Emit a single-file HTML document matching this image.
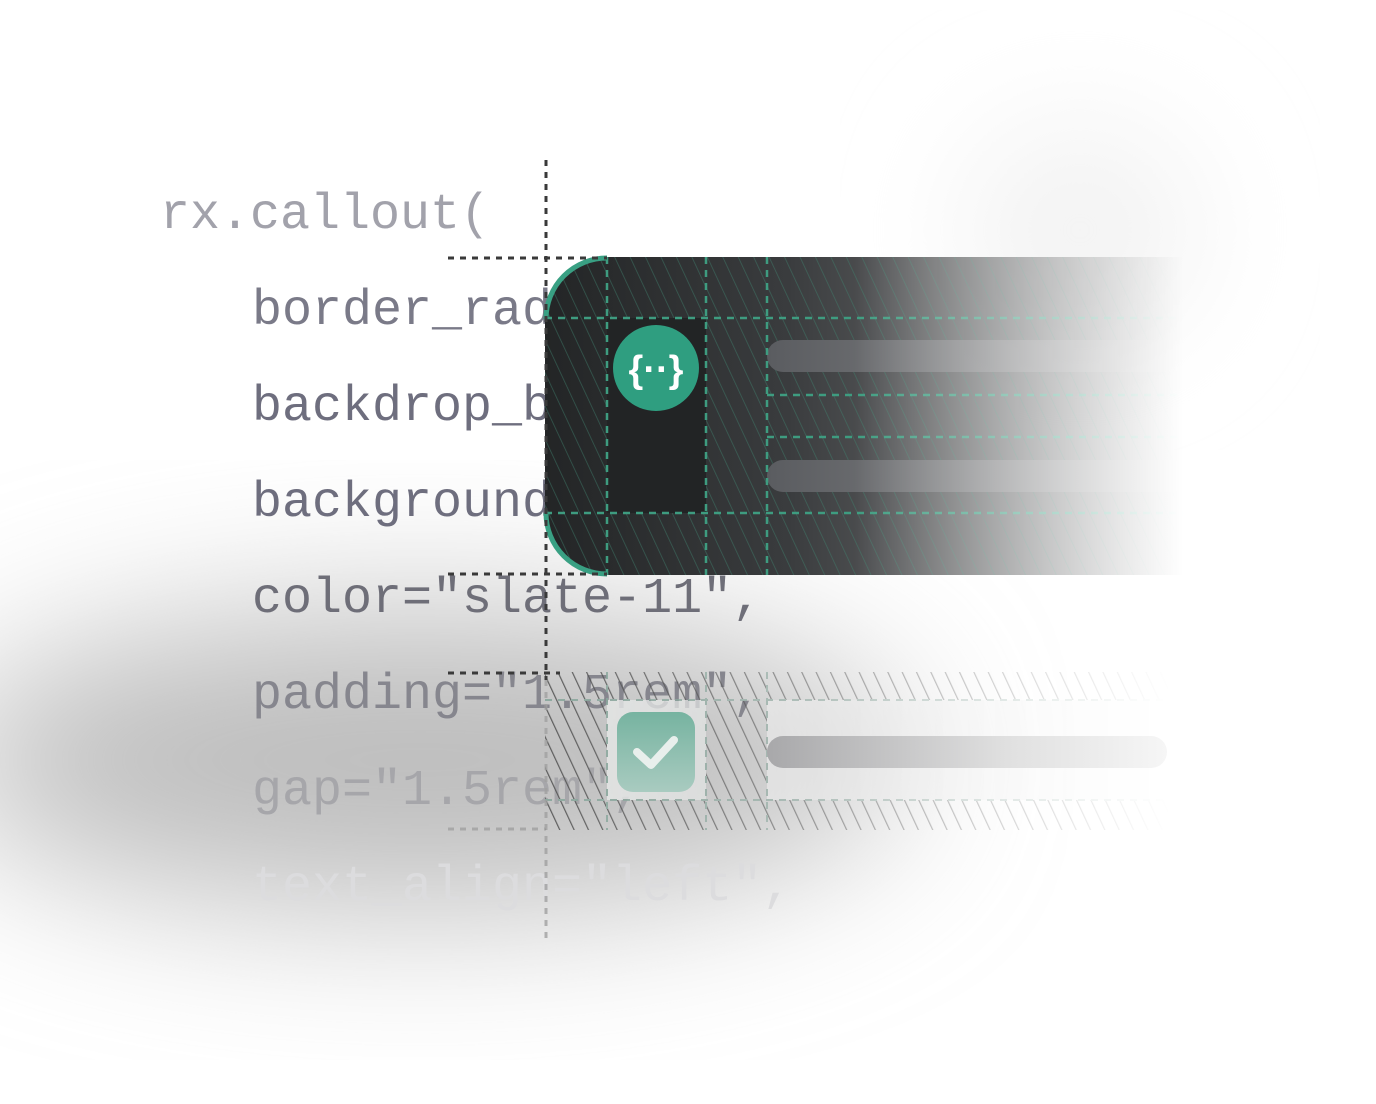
<!DOCTYPE html>
<html><head><meta charset="utf-8"><style>
html,body{margin:0;padding:0;background:#fff;}
svg{display:block;}
text{font-family:"Liberation Mono","DejaVu Sans Mono",monospace;font-size:50px;}
</style></head><body>
<svg width="1376" height="1104" viewBox="0 0 1376 1104" xmlns="http://www.w3.org/2000/svg">
<defs>
  <filter id="blur" x="-50%" y="-50%" width="200%" height="200%"><feGaussianBlur stdDeviation="80"/></filter>
  <filter id="blur2" x="-50%" y="-50%" width="200%" height="200%"><feGaussianBlur stdDeviation="60"/></filter>
  <pattern id="hatch" width="14" height="14" patternUnits="userSpaceOnUse" patternTransform="rotate(-25)">
    <line x1="0" y1="0" x2="0" y2="14" stroke="#3f7f6c" stroke-width="1.6" opacity="0.55"/>
  </pattern>
  <pattern id="hatch2" width="13" height="13" patternUnits="userSpaceOnUse" patternTransform="rotate(-25)">
    <line x1="0" y1="0" x2="0" y2="13" stroke="#555" stroke-width="2.4"/>
  </pattern>
  <linearGradient id="fadeR" x1="0" x2="1" y1="0" y2="0">
    <stop offset="0" stop-color="#fff"/>
    <stop offset="0.45" stop-color="#fff"/>
    <stop offset="0.92" stop-color="#000"/>
    <stop offset="1" stop-color="#000"/>
  </linearGradient>
  <mask id="m1" maskUnits="userSpaceOnUse" x="540" y="250" width="700" height="330">
    <rect x="540" y="250" width="700" height="330" fill="url(#fadeR)"/>
  </mask>
  <linearGradient id="fadeR2" x1="0" x2="1">
    <stop offset="0" stop-color="#fff" stop-opacity="0.95"/>
    <stop offset="0.45" stop-color="#fff" stop-opacity="0.45"/>
    <stop offset="0.9" stop-color="#fff" stop-opacity="0"/>
  </linearGradient>
  <mask id="m2" maskUnits="userSpaceOnUse" x="540" y="665" width="700" height="170">
    <rect x="540" y="665" width="700" height="170" fill="url(#fadeR2)"/>
  </mask>
  <linearGradient id="cardbg" x1="0" x2="1">
    <stop offset="0" stop-color="#232526"/>
    <stop offset="0.35" stop-color="#3a3c3e"/>
    <stop offset="1" stop-color="#a0a0a0"/>
  </linearGradient>
  <linearGradient id="bar" x1="0" x2="1">
    <stop offset="0" stop-color="#5a5c60"/>
    <stop offset="1" stop-color="#9a9a9a"/>
  </linearGradient>
  <linearGradient id="bar2" x1="0" x2="1">
    <stop offset="0" stop-color="#a8a8aa"/>
    <stop offset="0.6" stop-color="#e0e0e0"/>
    <stop offset="1" stop-color="#f6f6f6"/>
  </linearGradient>
  <linearGradient id="chk" x1="0" y1="0" x2="0" y2="1">
    <stop offset="0" stop-color="#76b3a0"/>
    <stop offset="1" stop-color="#a9cbc0"/>
  </linearGradient>
</defs>

<!-- background blobs -->
<ellipse cx="420" cy="760" rx="480" ry="150" fill="#bdbdbd" filter="url(#blur)"/>
<ellipse cx="1080" cy="230" rx="120" ry="110" fill="#f3f3f3" filter="url(#blur2)"/>

<!-- code text -->
<text x="160" y="228" fill="#a2a2ab">rx.callout(</text>
<text x="252" y="324" fill="#7a7a88">border_radius</text>
<text x="252" y="420" fill="#6e6e7e">backdrop_b</text>
<text x="252" y="516" fill="#6e6e7e">background</text>
<text x="252" y="612" fill="#6e6e78">color="slate-11",</text>
<text x="252" y="708" fill="#86868e">padding="1.5rem",</text>
<text x="252" y="804" fill="#a6a6aa">gap="1.5rem",</text>
<text x="252" y="900" fill="#dcdcde">text_align="left",</text>

<!-- dark card -->
<g mask="url(#m1)">
  <path d="M607,257 H1240 V575 H607 A62,62 0 0 1 545,513 V319 A62,62 0 0 1 607,257 Z" fill="url(#cardbg)"/>
  <path d="M607,257 H1240 V575 H607 A62,62 0 0 1 545,513 V319 A62,62 0 0 1 607,257 Z" fill="url(#hatch)"/>
  <rect x="607" y="318" width="99" height="195" fill="#222425"/>
  <rect x="767" y="340" width="420" height="32" rx="16" fill="url(#bar)"/>
  <rect x="767" y="460" width="420" height="32" rx="16" fill="url(#bar)"/>
  <g stroke="#3e9c80" stroke-width="2.5" stroke-dasharray="7,6" fill="none">
    <line x1="607" y1="257" x2="607" y2="575"/>
    <line x1="706" y1="257" x2="706" y2="575"/>
    <line x1="767" y1="257" x2="767" y2="575"/>
    <line x1="545" y1="318" x2="1240" y2="318"/>
    <line x1="767" y1="395" x2="1240" y2="395"/>
    <line x1="767" y1="437" x2="1240" y2="437"/>
    <line x1="545" y1="513" x2="1240" y2="513"/>
  </g>
</g>
<path d="M607,258 A61,61 0 0 0 546,319" fill="none" stroke="#39a083" stroke-width="5"/>
<path d="M546,513 A61,61 0 0 0 607,574" fill="none" stroke="#39a083" stroke-width="5"/>
<circle cx="656" cy="368" r="43" fill="#2f9e80"/>
<text x="656" y="382" text-anchor="middle" fill="#fff" style="font-family:'Liberation Sans',sans-serif;font-size:38px;font-weight:bold">{··}</text>

<!-- lower card -->
<g mask="url(#m2)">
  <rect x="545" y="672" width="700" height="158" fill="url(#hatch2)"/>
  <rect x="607" y="700" width="99" height="100" fill="#e4e6e5"/>
  <rect x="767" y="700" width="480" height="100" fill="#eeeeee"/>
  <g stroke="#8aa79d" stroke-width="2" stroke-dasharray="7,6" fill="none">
    <line x1="607" y1="672" x2="607" y2="830"/>
    <line x1="706" y1="672" x2="706" y2="830"/>
    <line x1="767" y1="672" x2="767" y2="830"/>
    <line x1="545" y1="700" x2="1245" y2="700"/>
    <line x1="545" y1="800" x2="1245" y2="800"/>
  </g>
</g>
<rect x="767" y="736" width="400" height="32" rx="16" fill="url(#bar2)"/>
<rect x="617" y="712" width="78" height="80" rx="16" fill="url(#chk)"/>
<path d="M637,752 L651,765 L674,740" fill="none" stroke="#e8efec" stroke-width="8" stroke-linecap="round" stroke-linejoin="round"/>

<!-- guide dashed lines -->
<g stroke="#3a3a3a" stroke-width="3" stroke-dasharray="6,6" fill="none">
  <line x1="546" y1="160" x2="546" y2="680"/>
  <line x1="448" y1="258" x2="607" y2="258"/>
  <line x1="448" y1="574" x2="607" y2="574"/>
  <line x1="448" y1="673" x2="560" y2="673"/>
</g>
<g stroke="#a0a0a0" stroke-width="3" stroke-dasharray="6,6" fill="none" opacity="0.8">
  <line x1="546" y1="680" x2="546" y2="940"/>
  <line x1="448" y1="829" x2="546" y2="829"/>
</g>
</svg>
</body></html>
